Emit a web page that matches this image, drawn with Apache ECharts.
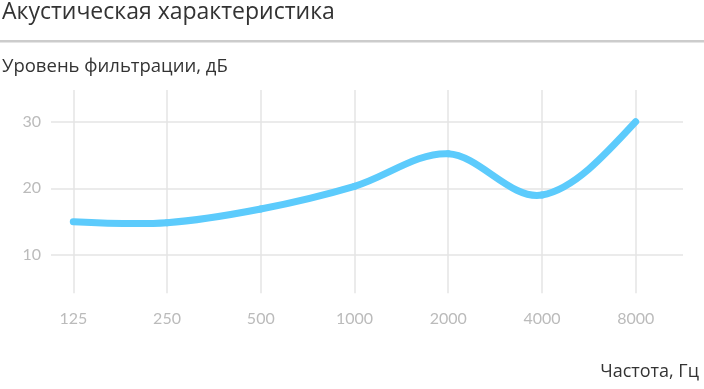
<!DOCTYPE html>
<html>
<head>
<meta charset="utf-8">
<script src="https://cdn.jsdelivr.net/npm/echarts@6/dist/echarts.min.js"></script>
<style>
html,body{margin:0;padding:0;background:#fff;}
#chart{width:704px;height:389px;}
</style>
</head>
<body>
<div id="chart"></div>
<script>
const titleText = 'Акустическая характеристика';
const yName = 'Уровень фильтрации, дБ';
const xName = 'Частота, Гц';
const categories = ['125', '250', '500', '1000', '2000', '4000', '8000'];
const values = [15, 14.85, 16.9, 20.3, 25.2, 19.0, 30];
const gridLineValues = [10, 20, 30];

const FONT = '"Open Sans", "Noto Sans", sans-serif';
const TICK_FONT = 'Lato, "Noto Sans", sans-serif';
const chart = echarts.init(document.getElementById('chart'), null, {renderer: 'canvas'});

// Smooth curve through the data points (coordinates come from the axes via api.coord)
function tangents(pts) {
  const n = pts.length, m = [];
  for (let i = 1; i < n - 1; i++) {
    m[i] = [(pts[i + 1][0] - pts[i - 1][0]) / 2, (pts[i + 1][1] - pts[i - 1][1]) / 2];
  }
  m[0] = [(3 * (pts[1][0] - pts[0][0]) - m[1][0]) / 2, (3 * (pts[1][1] - pts[0][1]) - m[1][1]) / 2];
  m[n - 1] = [(3 * (pts[n - 1][0] - pts[n - 2][0]) - m[n - 2][0]) / 2,
              (3 * (pts[n - 1][1] - pts[n - 2][1]) - m[n - 2][1]) / 2];
  return m;
}

function renderCurve(params, api) {
  const i = params.dataIndex;
  if (i >= values.length - 1) return null;
  const pts = values.map((v, k) => api.coord([k, v]));
  const m = tangents(pts);
  const p0 = pts[i], p1 = pts[i + 1];
  return {
    type: 'bezierCurve',
    shape: {
      x1: p0[0], y1: p0[1], x2: p1[0], y2: p1[1],
      cpx1: p0[0] + m[i][0] / 3, cpy1: p0[1] + m[i][1] / 3,
      cpx2: p1[0] - m[i + 1][0] / 3, cpy2: p1[1] - m[i + 1][1] / 3
    },
    style: {stroke: '#5ccbfc', lineWidth: 7, lineCap: 'round', fill: null},
    silent: true
  };
}

chart.setOption({
  animation: false,
  backgroundColor: '#ffffff',
  textStyle: {fontFamily: FONT},
  title: [
    {text: titleText, left: 2, top: 1, padding: 0, textStyle: {fontFamily: FONT, fontSize: 23, fontWeight: 'normal', color: '#333333'}},
    {text: yName, left: 2, top: 57, padding: 0, textStyle: {fontFamily: FONT, fontSize: 18.5, fontWeight: 'normal', color: '#333333'}},
    {text: xName, right: 5, top: 363, padding: 0, textStyle: {fontFamily: FONT, fontSize: 18, fontWeight: 'normal', color: '#333333'}}
  ],
  graphic: [
    {type: 'rect', shape: {x: 0, y: 40, width: 704, height: 2.5}, style: {fill: '#cccccc'}, silent: true}
  ],
  grid: [
    {left: 51, right: 21, top: 55, bottom: 67.35},
    {left: 73.3, right: 68.3, top: 90, bottom: 95.7}
  ],
  xAxis: [
    {type: 'value', gridIndex: 0, min: 0, max: 1, show: false},
    {
      type: 'category', gridIndex: 1, data: categories, boundaryGap: false,
      axisLine: {show: false}, axisTick: {show: false},
      splitLine: {show: true, lineStyle: {color: '#e4e4e4', width: 1.5}},
      axisLabel: {color: '#bbbbbb', fontSize: 16, margin: 18, fontFamily: TICK_FONT}
    }
  ],
  yAxis: [
    {
      type: 'value', gridIndex: 0, min: 0, max: 40, interval: 10,
      axisLine: {show: false}, axisTick: {show: false}, splitLine: {show: false},
      axisLabel: {color: '#bbbbbb', fontSize: 16, margin: 10, fontFamily: TICK_FONT,
        formatter: v => (gridLineValues.indexOf(v) >= 0 ? String(v) : '')}
    },
    {type: 'value', gridIndex: 1, min: 4.25, max: 34.76, show: false, splitLine: {show: false}}
  ],
  series: [
    {
      type: 'line', xAxisIndex: 0, yAxisIndex: 0, data: [], silent: true,
      markLine: {
        silent: true, symbol: ['none', 'none'], label: {show: false},
        lineStyle: {color: '#e4e4e4', type: 'solid', width: 1.5},
        data: gridLineValues.map(v => ({yAxis: v}))
      }
    },
    {
      type: 'custom', xAxisIndex: 1, yAxisIndex: 1,
      data: values.map((v, i) => [i, v]),
      renderItem: renderCurve,
      z: 5
    }
  ]
});
</script>
</body>
</html>
